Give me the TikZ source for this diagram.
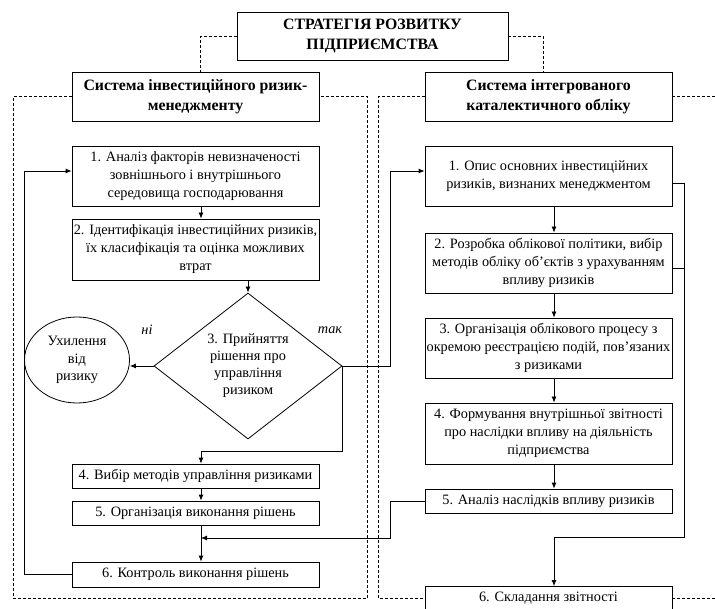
\documentclass[tikz,border=0pt]{standalone}
\usepackage{fontspec}
\setmainfont{Liberation Serif}
\usetikzlibrary{shapes.geometric,arrows.meta}
\newcommand{\bx}{\fontsize{14.3}{18}\selectfont}
\newcommand{\hd}{\fontsize{15.8}{20}\selectfont\bfseries}

\tikzset{
    blk/.style={draw, line width=0.8pt, minimum width=247pt, align=center, inner sep=1pt, font=\bx},
    hdr/.style={draw, line width=0.8pt, align=center, inner sep=1pt, font=\hd},
    arr/.style={-{Latex[length=6pt,width=5pt]}, line width=0.8pt},
    ln/.style={line width=0.8pt},
    frm/.style={line width=0.8pt, dash pattern=on 3pt off 2pt},
}

\begin{document}
\begin{tikzpicture}[x=1pt, y=-1pt]
    \useasboundingbox (0,0) rectangle (715,609);
    \clip (0,0) rectangle (715,609);

    % заголовки
    \node [hdr, minimum width=271pt, minimum height=48pt] (top) at (372.5, 36) {СТРАТЕГІЯ РОЗВИТКУ\\ПІДПРИЄМСТВА};
    \node [hdr, minimum width=247pt, minimum height=49pt] (h1) at (195.5, 96.5) {Система інвестиційного ризик-\\менеджменту};
    \node [hdr, minimum width=247pt, minimum height=49pt] (h2) at (548.5, 96.5) {Система інтегрованого\\каталектичного обліку};

    % допоміжні координати
    \coordinate (lx) at (201, 0);
    \coordinate (rx) at (390, 0);
    \coordinate (rc) at (554, 0);
    \coordinate (ox) at (684, 0);
    \coordinate (jn) at (201, 538);

    % ліва колонка
    \node [blk, minimum height=60pt] (l1) at (195.5, 176) {1. Аналіз факторів невизначеності\\зовнішнього і внутрішнього\\середовища господарювання};
    \node [blk, minimum height=61pt] (l2) at (195.5, 249.5) {2. Ідентифікація інвестиційних ризиків,\\їх класифікація та оцінка можливих\\втрат};
    \node [draw, diamond, line width=0.8pt, minimum width=188pt, minimum height=146pt, inner sep=0pt, align=center, font=\fontsize{14.3}{17}\selectfont] (dm) at (248, 366) {3. Прийняття\\рішення про\\управління\\ризиком};
    \node [draw, ellipse, line width=0.8pt, minimum width=105pt, minimum height=86pt, inner sep=0pt, align=center, font=\fontsize{14.3}{17.5}\selectfont] (ell) at (77, 360) {Ухилення\\від\\ризику};
    \node [font=\bx\itshape] (no) at (147, 330) {ні};
    \node [font=\bx\itshape] (yes) at (330, 330) {так};
    \node [blk, minimum height=24pt] (l4) at (195.5, 476) {4. Вибір методів управління ризиками};
    \node [blk, minimum height=24pt] (l5) at (195.5, 513) {5. Організація виконання рішень};
    \node [blk, minimum height=25pt] (l6) at (195.5, 574.5) {6. Контроль виконання рішень};

    % права колонка
    \node [blk, minimum height=60pt] (r1) at (548.5, 176) {1. Опис основних інвестиційних\\ризиків, визнаних менеджментом};
    \node [blk, minimum height=60pt] (r2) at (548.5, 263) {2. Розробка облікової політики, вибір\\методів обліку об’єктів з урахуванням\\впливу ризиків};
    \node [blk, minimum height=60pt] (r3) at (548.5, 348) {3. Організація облікового процесу з\\окремою реєстрацією подій, пов’язаних\\з ризиками};
    \node [blk, minimum height=61pt] (r4) at (548.5, 433.5) {4. Формування внутрішньої звітності\\про наслідки впливу на діяльність\\підприємства};
    \node [blk, minimum height=24pt] (r5) at (548.5, 501) {5. Аналіз наслідків впливу ризиків};
    \node [blk, minimum height=24pt] (r6) at (548.5, 598.5) {6. Складання звітності};

    % пунктирні рамки
    \draw [frm] (top.west) -| ([xshift=5pt]h1.north);
    \draw [frm] (top.east) -| ([xshift=-5pt]h2.north);
    \draw [frm] (h1.west) -| (13.5, 598.5) -- (367.5, 598.5) |- (h1.east);
    \draw [frm] (h2.west) -| (378.5, 598.5) -- (r6.west);
    \draw [frm] (h2.east) -- (720, 96.5);
    \draw [frm] (r6.east) -- (720, 598.5);

    % стрілки ліворуч
    \draw [arr] (l1.south -| lx) -- (l2.north -| lx);
    \draw [arr] (l2.south -| dm.north) -- (dm.north);
    \draw [arr] (dm.west) -- (dm.west -| ell.east);
    \draw [arr] (dm.east) |- ([yshift=12pt]l4.north -| lx) -- (l4.north -| lx);
    \draw [arr] (l4.south -| lx) -- (l5.north -| lx);
    \draw [arr] (l5.south -| lx) -- (l6.north -| lx);
    \draw [arr] (l6.west) -| ([xshift=-47pt,yshift=5pt]l1.west) -- ([yshift=5pt]l1.west);

    % зв'язки між колонками
    \draw [arr] (dm.east) -- (dm.east -| rx) |- ([yshift=5pt]r1.west);
    \draw [arr] (r5.west) -| (rx |- jn) -- (jn);

    % стрілки праворуч
    \draw [arr] (r1.south -| rc) -- (r2.north -| rc);
    \draw [arr] (r2.south -| rc) -- (r3.north -| rc);
    \draw [arr] (r3.south -| rc) -- (r4.north -| rc);
    \draw [arr] (r4.south -| rc) -- (r5.north -| rc);
    \draw [arr] ([yshift=-7pt]r1.east) -| (ox |- 0,537) -| (r6.north -| rc);
    \draw [ln] ([yshift=-5pt]r2.east) -- (ox |- 0,268);
\end{tikzpicture}
\end{document}
